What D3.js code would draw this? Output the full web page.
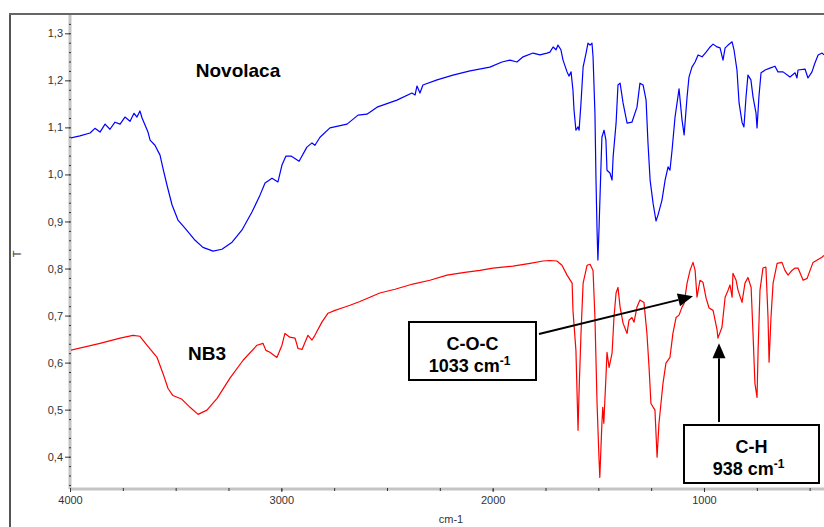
<!DOCTYPE html>
<html><head><meta charset="utf-8">
<script src="https://cdnjs.cloudflare.com/ajax/libs/d3/7.8.5/d3.min.js"></script>
<style>
html,body{margin:0;padding:0;background:#fff;}
svg{display:block;}
</style></head>
<body>
<script>
// ---- data ----
const novolacaWn = [4000,3953,3905,3882,3858,3834,3811,3787,3763,3740,3716,3697,3683,3669,3659,3645,3631,3621,3598,3574,3560,3541,3517,3489,3456,3408,3371,3323,3281,3233,3186,3139,3101,3077,3044,3016,2997,2978,2954,2916,2879,2855,2841,2817,2770,2689,2637,2595,2547,2453,2382,2367,2358,2344,2330,2263,2188,2107,2013,1956,1918,1885,1856,1809,1776,1743,1729,1714,1700,1691,1677,1667,1648,1639,1629,1620,1615,1606,1596,1591,1582,1572,1558,1549,1539,1530,1525,1516,1511,1506,1502,1497,1487,1483,1473,1464,1459,1445,1435,1430,1416,1407,1397,1383,1364,1341,1317,1303,1288,1274,1265,1255,1241,1227,1218,1199,1184,1170,1161,1151,1137,1118,1104,1094,1080,1071,1057,1042,1028,1009,990,971,957,938,924,910,900,886,867,858,844,834,820,811,801,792,778,768,754,749,740,730,711,688,664,650,626,593,569,560,555,522,508,489,475,460,441,432];
const novolacaT = [1.077,1.082,1.088,1.098,1.090,1.107,1.096,1.111,1.107,1.122,1.113,1.130,1.122,1.135,1.120,1.105,1.090,1.073,1.062,1.041,1.013,0.977,0.935,0.903,0.886,0.860,0.845,0.837,0.841,0.856,0.882,0.920,0.956,0.982,0.992,0.984,1.020,1.039,1.039,1.028,1.058,1.067,1.062,1.079,1.099,1.107,1.126,1.128,1.143,1.158,1.173,1.169,1.188,1.173,1.190,1.201,1.211,1.220,1.228,1.239,1.243,1.239,1.250,1.258,1.254,1.258,1.260,1.271,1.265,1.275,1.265,1.243,1.218,1.209,1.218,1.179,1.137,1.094,1.101,1.094,1.152,1.228,1.258,1.279,1.275,1.279,1.250,1.130,0.988,0.881,0.818,0.881,1.024,1.079,1.094,1.073,1.009,1.003,0.988,1.037,1.109,1.190,1.194,1.152,1.109,1.111,1.143,1.194,1.190,1.158,1.067,0.988,0.939,0.901,0.913,0.945,0.988,1.016,1.009,1.052,1.122,1.182,1.116,1.084,1.165,1.207,1.228,1.239,1.254,1.250,1.260,1.271,1.277,1.271,1.269,1.243,1.269,1.275,1.282,1.265,1.222,1.152,1.111,1.101,1.165,1.211,1.201,1.165,1.131,1.099,1.165,1.216,1.222,1.226,1.230,1.218,1.218,1.207,1.216,1.205,1.222,1.224,1.205,1.218,1.237,1.254,1.258,1.254];

const nb3Wn = [4000,3858,3763,3702,3669,3636,3588,3560,3536,3513,3470,3432,3394,3352,3304,3243,3181,3115,3087,3073,3054,3021,2997,2983,2960,2935,2921,2902,2874,2855,2841,2808,2779,2746,2713,2675,2628,2581,2534,2462,2378,2297,2216,2132,2060,1999,1904,1823,1762,1729,1696,1672,1648,1624,1620,1606,1596,1591,1582,1572,1553,1539,1525,1516,1506,1497,1493,1483,1479,1474,1464,1459,1449,1435,1426,1416,1407,1397,1383,1364,1355,1341,1331,1317,1303,1284,1270,1260,1251,1232,1222,1213,1194,1180,1161,1147,1132,1118,1104,1094,1080,1066,1052,1042,1033,1019,1005,990,976,957,938,934,915,900,886,877,867,863,848,839,820,806,792,777,768,759,749,744,735,721,707,697,692,683,673,654,631,617,602,584,569,555,531,512,484,442,432];
const nb3T = [0.626,0.641,0.652,0.658,0.656,0.637,0.611,0.577,0.545,0.530,0.522,0.505,0.490,0.499,0.524,0.567,0.605,0.637,0.641,0.626,0.622,0.611,0.637,0.662,0.654,0.652,0.630,0.628,0.658,0.648,0.658,0.686,0.705,0.711,0.716,0.722,0.730,0.739,0.748,0.756,0.767,0.775,0.786,0.792,0.796,0.801,0.805,0.811,0.816,0.817,0.816,0.807,0.786,0.769,0.711,0.626,0.456,0.541,0.662,0.769,0.807,0.809,0.796,0.696,0.513,0.399,0.356,0.471,0.505,0.471,0.569,0.622,0.590,0.620,0.696,0.748,0.760,0.718,0.684,0.662,0.690,0.696,0.686,0.718,0.733,0.728,0.662,0.590,0.513,0.499,0.399,0.471,0.556,0.599,0.611,0.662,0.696,0.701,0.718,0.726,0.769,0.796,0.813,0.796,0.739,0.775,0.771,0.737,0.716,0.711,0.669,0.652,0.675,0.739,0.754,0.765,0.739,0.790,0.775,0.754,0.728,0.769,0.781,0.760,0.662,0.556,0.526,0.626,0.754,0.801,0.803,0.696,0.601,0.696,0.769,0.811,0.813,0.796,0.786,0.796,0.801,0.801,0.775,0.779,0.813,0.824,0.828];

const xTickValues = [4000,3000,2000,1000];
const xTickLabels = ["4000","3000","2000","1000"];
const yTickValues = [0.4,0.5,0.6,0.7,0.8,0.9,1.0,1.1,1.2,1.3];
const yTickLabels = ["0,4","0,5","0,6","0,7","0,8","0,9","1,0","1,1","1,2","1,3"];
const seriesNames = ["Novolaca","NB3"];
const annotations = [
  {title:"C-O-C", num:"1033", wn:1052, t:0.741},
  {title:"C-H", num:"938", wn:929, t:0.641}
];

// ---- layout ----
const W = 824, H = 527;
const mLeft = 70, mTop = 14, mBottom = 489;
const svg = d3.select("body").append("svg").attr("width", W).attr("height", H)
  .style("font-family","Arial, 'Liberation Sans', sans-serif");

const x = d3.scaleLinear().domain([4000, 400]).range([mLeft, mLeft + 3600 * 0.21133]);
const y = d3.scaleLinear().domain([0.4, 1.3]).range([456.7, 33.3]);

// outer frame
svg.append("line").attr("x1",10).attr("x2",10).attr("y1",13).attr("y2",H)
  .attr("stroke","#555").attr("stroke-width",2);
svg.append("line").attr("x1",9).attr("x2",W).attr("y1",mTop).attr("y2",mTop)
  .attr("stroke","#666").attr("stroke-width",2);

// axes lines (gray)
svg.append("line").attr("x1",mLeft).attr("x2",mLeft).attr("y1",15).attr("y2",mBottom)
  .attr("stroke","#c4c4c4").attr("stroke-width",3);
svg.append("line").attr("x1",mLeft).attr("x2",W).attr("y1",mBottom).attr("y2",mBottom)
  .attr("stroke","#c4c4c4").attr("stroke-width",3);

// y axis ticks
const yMinor = d3.range(0.34, 1.341, 0.02).map(v => +v.toFixed(2));
const yAxis = d3.axisLeft(y).tickValues(yTickValues).tickSize(5).tickPadding(2)
  .tickFormat((d,i) => yTickLabels[i]);
const gy = svg.append("g").attr("transform",`translate(${mLeft},0)`).call(yAxis);
gy.select(".domain").remove();
gy.selectAll(".tick line").attr("stroke","#333");
gy.selectAll(".tick text").attr("font-size",11).attr("fill","#333").attr("font-family","Arial, 'Liberation Sans', sans-serif");
const yMinorAxis = d3.axisLeft(y).tickValues(yMinor.filter(v => y(v) > 15 && y(v) < mBottom)).tickSize(2).tickFormat("");
const gym = svg.append("g").attr("transform",`translate(${mLeft+1},0)`).call(yMinorAxis);
gym.select(".domain").remove();
gym.selectAll(".tick line").attr("stroke","#333");

// x axis ticks
const xMinor = d3.range(4000, 400, -250);
const xAxis = d3.axisBottom(x).tickValues(xTickValues).tickSize(3).tickPadding(4)
  .tickFormat((d,i) => xTickLabels[i]);
const gx = svg.append("g").attr("transform",`translate(0,${mBottom})`).call(xAxis);
gx.select(".domain").remove();
gx.selectAll(".tick text").attr("font-size",11).attr("fill","#333").attr("font-family","Arial, 'Liberation Sans', sans-serif");
const xMinorAxis = d3.axisBottom(x).tickValues(xMinor).tickSize(3).tickFormat("");
const gxm = svg.append("g").attr("transform",`translate(0,${mBottom-1})`).call(xMinorAxis);
gxm.select(".domain").remove();
gxm.selectAll(".tick line").attr("stroke","#333");
gx.selectAll(".tick line").attr("stroke","#333");

// axis titles
svg.append("text").attr("transform",`translate(21,254) rotate(-90)`).attr("text-anchor","middle")
  .attr("font-size",11).attr("fill","#333").text("T");
svg.append("text").attr("x",451).attr("y",523).attr("text-anchor","middle")
  .attr("font-size",11).attr("fill","#333").text("cm-1");

// clip
svg.append("clipPath").attr("id","plotclip").append("rect")
  .attr("x",mLeft+1).attr("y",15).attr("width",W-mLeft).attr("height",mBottom-16);

const line = d3.line().x(d => x(d[0])).y(d => y(d[1]));
const plot = svg.append("g").attr("clip-path","url(#plotclip)");
plot.append("path").datum(d3.zip(novolacaWn, novolacaT)).attr("d", line)
  .attr("fill","none").attr("stroke","#0000ff").attr("stroke-width",1.2).attr("stroke-linejoin","round");
plot.append("path").datum(d3.zip(nb3Wn, nb3T)).attr("d", line)
  .attr("fill","none").attr("stroke","#ff0000").attr("stroke-width",1.2).attr("stroke-linejoin","round");

// series labels
svg.append("text").attr("x",238).attr("y",77).attr("text-anchor","middle")
  .attr("font-size",19).attr("font-weight","bold").attr("fill","#000").text(seriesNames[0]);
svg.append("text").attr("x",207).attr("y",360).attr("text-anchor","middle")
  .attr("font-size",19).attr("font-weight","bold").attr("fill","#000").text(seriesNames[1]);

// annotations
function arrow(x1,y1,x2,y2){
  const ang = Math.atan2(y2-y1, x2-x1);
  const len = 15, hw = 6.5;
  const bx = x2 - len*Math.cos(ang), by = y2 - len*Math.sin(ang);
  svg.append("line").attr("x1",x1).attr("y1",y1).attr("x2",bx).attr("y2",by)
    .attr("stroke","#000").attr("stroke-width",2);
  const px = -Math.sin(ang)*hw, py = Math.cos(ang)*hw;
  svg.append("path").attr("d",`M${x2},${y2}L${bx+px},${by+py}L${bx-px},${by-py}Z`).attr("fill","#000");
}
function box(x0,y0,w,h,a){
  svg.append("rect").attr("x",x0).attr("y",y0).attr("width",w).attr("height",h)
    .attr("fill","#fff").attr("stroke","#000").attr("stroke-width",2);
  const cx = x0 + w/2;
  svg.append("text").attr("x",cx).attr("y",y0+28).attr("text-anchor","middle")
    .attr("font-size",18).attr("font-weight","bold").text(a.title);
  const t = svg.append("text").attr("x",cx-3).attr("y",y0+50).attr("text-anchor","middle")
    .attr("font-size",18).attr("font-weight","bold");
  t.append("tspan").text(a.num + " cm");
  t.append("tspan").attr("dy",-7).attr("font-size",12).text("-1");
}
box(409,322,127,58,annotations[0]);
arrow(539,334,x(annotations[0].wn),y(annotations[0].t));
box(684,425,135,58,annotations[1]);
arrow(719,422,x(annotations[1].wn),y(annotations[1].t));
</script>
</body></html>
